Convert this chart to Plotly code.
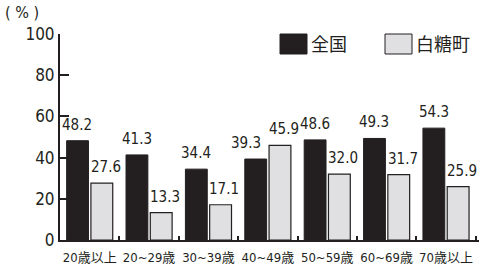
import plotly.graph_objects as go

categories = ["20歳以上", "20~29歳", "30~39歳", "40~49歳", "50~59歳", "60~69歳", "70歳以上"]
national = [48.2, 41.3, 34.4, 39.3, 48.6, 49.3, 54.3]
shiranuka = [27.6, 13.3, 17.1, 45.9, 32.0, 31.7, 25.9]
series_names = ["全国", "白糖町"]
y_ticks = [0, 20, 40, 60, 80, 100]

FONT = "DejaVu Sans Condensed, Liberation Sans Narrow, Noto Sans CJK JP, sans-serif"
DARK = "#231f20"
LIGHT = "#e0e0e2"

W, H = 493, 270
ML, MR, MT, MB = 60, 14, 34, 30

def px(xp):
    return (xp - ML) / (W - ML - MR)

def py(yp):
    return (H - MB - yp) / (H - MT - MB)

fig = go.Figure()
fig.add_bar(x=categories, y=national, name=series_names[0],
            marker=dict(color=DARK, line=dict(color=DARK, width=1)))
fig.add_bar(x=categories, y=shiranuka, name=series_names[1],
            marker=dict(color=LIGHT, line=dict(color=DARK, width=1.2)))

shapes = [
    dict(type="rect", xref="paper", yref="paper", x0=px(280), x1=px(307), y0=py(54), y1=py(34),
         fillcolor=DARK, line=dict(color=DARK, width=1)),
    dict(type="rect", xref="paper", yref="paper", x0=px(385), x1=px(412), y0=py(54), y1=py(34),
         fillcolor=LIGHT, line=dict(color=DARK, width=1)),
]
annotations = [
    dict(text=series_names[0], xref="paper", yref="paper", x=px(309), y=py(44), xanchor="left",
         yanchor="middle", showarrow=False, font=dict(family=FONT, size=18, color=DARK)),
    dict(text=series_names[1], xref="paper", yref="paper", x=px(414), y=py(44), xanchor="left",
         yanchor="middle", showarrow=False, font=dict(family=FONT, size=18, color=DARK)),
    dict(text="( % )", xref="paper", yref="paper", x=px(3), y=py(12), xanchor="left",
         yanchor="middle", showarrow=False, font=dict(family=FONT, size=16, color=DARK)),
]

# value labels above bars (pixel shifts only nudge placement)
shift_nat, shift_shi = -12.25, 16.0
nudge_nat = {3: -10}
for i, (c, v) in enumerate(zip(categories, national)):
    annotations.append(dict(text=f"{v:.1f}", x=c, y=v, xref="x", yref="y", showarrow=False,
                            xshift=shift_nat + nudge_nat.get(i, 0), yshift=5, yanchor="bottom",
                            font=dict(family=FONT, size=15, color=DARK)))
for i, (c, v) in enumerate(zip(categories, shiranuka)):
    annotations.append(dict(text=f"{v:.1f}", x=c, y=v, xref="x", yref="y", showarrow=False,
                            xshift=shift_shi, yshift=5, yanchor="bottom",
                            font=dict(family=FONT, size=15, color=DARK)))

fig.update_layout(
    width=W, height=H, margin=dict(l=ML, r=MR, t=MT, b=MB, autoexpand=False),
    paper_bgcolor="white", plot_bgcolor="white",
    barmode="group", bargap=0.183, bargroupgap=0.1,
    showlegend=False, shapes=shapes, annotations=annotations,
    font=dict(family=FONT, color=DARK),
    xaxis=dict(showline=True, linecolor=DARK, linewidth=2, ticks="inside", tickson="boundaries",
               ticklen=4, tickwidth=2, tickcolor=DARK, showgrid=False, tickangle=0,
               ticklabelstandoff=4, automargin=False,
               tickfont=dict(family=FONT, size=13, color=DARK)),
    yaxis=dict(range=[0, 100], tickvals=y_ticks, showline=True, linecolor=DARK, linewidth=2,
               ticks="inside", ticklen=9, tickwidth=2, tickcolor=DARK, showgrid=False,
               zeroline=False, automargin=False, tickfont=dict(family=FONT, size=17, color=DARK)),
)

fig.write_html("out.html")
